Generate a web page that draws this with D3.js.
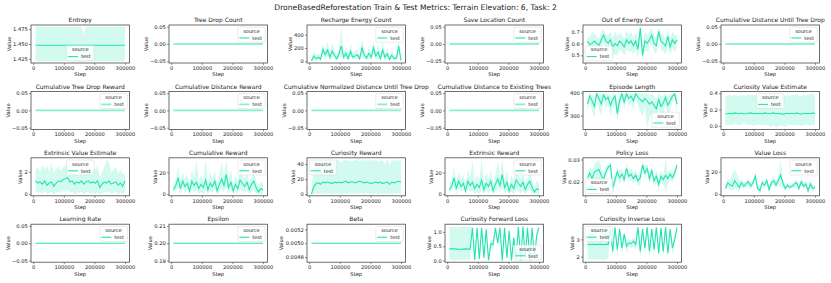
<!DOCTYPE html>
<html>
<head>
<meta charset="utf-8">
<script src="https://cdn.jsdelivr.net/npm/d3@7"></script>
<style>
  body { margin: 0; background: #fff; }
  svg text { font-family: 'DejaVu Sans', sans-serif; fill: #222; }
</style>
</head>
<body>
<div class="box"></div>
<script>
// training steps (x values shared by every panel)
const steps = [7500, 15000, 22500, 30000, 37500, 45000, 52500, 60000, 67500, 75000,
               82500, 90000, 97500, 105000, 112500, 120000, 127500, 135000, 142500, 150000,
               157500, 165000, 172500, 180000, 187500, 195000, 202500, 210000, 217500, 225000,
               232500, 240000, 247500, 255000, 262500, 270000, 277500, 285000, 292500, 300000];
const xTicks = [0, 100000, 200000, 300000];

// Entropy
const entropyValue = 1.448;
const entropyHi = [1.479, 1.479, 1.479, 1.479, 1.479, 1.479, 1.479, 1.479, 1.479, 1.479,
                   1.479, 1.479, 1.479, 1.479, 1.479, 1.479, 1.479, 1.479, 1.479, 1.479,
                   1.479, 1.466, 1.479, 1.479, 1.479, 1.479, 1.479, 1.479, 1.479, 1.479,
                   1.479, 1.479, 1.479, 1.479, 1.479, 1.479, 1.479, 1.479, 1.479, 1.479];
const entropyLo = [1.421, 1.421, 1.421, 1.421, 1.421, 1.421, 1.421, 1.421, 1.421, 1.421,
                   1.421, 1.421, 1.421, 1.421, 1.421, 1.421, 1.421, 1.421, 1.421, 1.421,
                   1.421, 1.421, 1.421, 1.421, 1.421, 1.421, 1.421, 1.421, 1.421, 1.421,
                   1.421, 1.421, 1.421, 1.421, 1.421, 1.421, 1.421, 1.421, 1.421, 1.421];

// Recharge Energy Count
const rechargeMean = [5, 80, 40, 60, 30, 180, 100, 170, 60, 150,
                      90, 40, 110, 230, 60, 120, 40, 150, 60, 80,
                      100, 40, 200, 90, 50, 120, 60, 200, 80, 140,
                      40, 170, 60, 110, 30, 90, 40, 50, 230, 10];
const rechargeHi = [10, 150, 90, 120, 80, 260, 180, 300, 120, 280,
                    170, 90, 200, 520, 120, 220, 90, 260, 120, 160,
                    180, 90, 330, 180, 110, 220, 120, 320, 150, 250,
                    90, 300, 120, 200, 70, 160, 80, 100, 330, 30];
const rechargeLo = [0, 30, 10, 20, 5, 110, 40, 90, 20, 60,
                    30, 10, 40, 80, 20, 50, 10, 70, 20, 30,
                    40, 10, 100, 30, 15, 50, 20, 110, 30, 60,
                    10, 80, 20, 40, 5, 30, 10, 15, 140, 0];

// Out of Energy Count
const outOfEnergyMean = [0.62, 0.59, 0.60, 0.62, 0.60, 0.58, 0.63, 0.67, 0.62, 0.60,
                         0.63, 0.57, 0.60, 0.58, 0.62, 0.60, 0.57, 0.63, 0.60, 0.62,
                         0.58, 0.62, 0.55, 0.73, 0.50, 0.62, 0.60, 0.63, 0.67, 0.60,
                         0.58, 0.70, 0.62, 0.60, 0.58, 0.66, 0.57, 0.63, 0.60, 0.63];
const outOfEnergyHi = [0.66, 0.65, 0.70, 0.68, 0.66, 0.64, 0.70, 0.72, 0.68, 0.67,
                       0.70, 0.64, 0.70, 0.66, 0.69, 0.67, 0.64, 0.71, 0.67, 0.70,
                       0.65, 0.69, 0.63, 0.74, 0.58, 0.70, 0.67, 0.70, 0.73, 0.67,
                       0.65, 0.74, 0.69, 0.67, 0.64, 0.72, 0.64, 0.70, 0.66, 0.68];
const outOfEnergyLo = [0.58, 0.53, 0.52, 0.56, 0.54, 0.52, 0.56, 0.61, 0.55, 0.53,
                       0.56, 0.50, 0.51, 0.50, 0.55, 0.53, 0.50, 0.55, 0.53, 0.54,
                       0.51, 0.55, 0.47, 0.64, 0.45, 0.54, 0.53, 0.56, 0.60, 0.53,
                       0.51, 0.64, 0.55, 0.53, 0.51, 0.58, 0.50, 0.56, 0.53, 0.57];

// Episode Length
const episodeMean = [350, 385, 365, 340, 395, 375, 350, 390, 370, 380,
                     345, 370, 385, 310, 365, 395, 360, 395, 375, 385,
                     365, 395, 380, 370, 360, 375, 365, 350, 360, 345,
                     330, 370, 340, 355, 380, 345, 365, 385, 395, 350];
const episodeHi = [380, 398, 395, 380, 398, 398, 390, 398, 395, 398,
                   385, 395, 398, 360, 395, 398, 395, 398, 398, 398,
                   395, 398, 398, 398, 395, 398, 398, 390, 395, 385,
                   375, 398, 385, 390, 398, 385, 395, 398, 398, 390];
const episodeLo = [315, 360, 320, 290, 375, 330, 300, 370, 330, 350,
                   300, 330, 360, 270, 320, 380, 320, 380, 340, 360,
                   320, 375, 340, 320, 300, 340, 248, 290, 310, 290,
                   275, 330, 290, 300, 350, 300, 320, 360, 380, 310];

// Curiosity Value Estimate
const curValueMean = [0.15, 0.15, 0.155, 0.15, 0.16, 0.155, 0.15, 0.155, 0.15, 0.15,
                      0.155, 0.16, 0.15, 0.155, 0.15, 0.155, 0.15, 0.16, 0.155, 0.15,
                      0.155, 0.16, 0.15, 0.155, 0.15, 0.145, 0.15, 0.155, 0.15, 0.155,
                      0.15, 0.16, 0.15, 0.145, 0.155, 0.15, 0.155, 0.15, 0.16, 0.15];
const curValueHi = [0.36, 0.37, 0.38, 0.37, 0.38, 0.37, 0.36, 0.38, 0.37, 0.37,
                    0.39, 0.38, 0.37, 0.38, 0.37, 0.38, 0.37, 0.39, 0.38, 0.37,
                    0.38, 0.39, 0.38, 0.37, 0.38, 0.37, 0.36, 0.38, 0.37, 0.38,
                    0.37, 0.39, 0.37, 0.36, 0.38, 0.37, 0.38, 0.39, 0.40, 0.38];
const curValueLo = [0.02, 0.01, 0.02, 0.01, 0.03, 0.02, 0.01, 0.02, 0.03, 0.02,
                    0.01, 0.02, 0.00, 0.01, 0.02, 0.01, 0.00, 0.02, 0.01, 0.00,
                    -0.01, 0.01, -0.02, 0.00, 0.01, 0.00, -0.01, 0.01, 0.02, 0.01,
                    0.00, 0.02, 0.01, 0.00, 0.01, 0.02, 0.01, 0.00, 0.01, 0.02];

// Extrinsic Value Estimate
const extValueMean = [1.2, 1.0, 1.1, 0.9, 1.2, 0.8, 1.0, 1.1, 0.7, 1.0,
                      1.2, 1.1, 1.3, 1.4, 1.5, 1.1, 1.2, 0.9, 1.1, 1.0,
                      1.2, 0.9, 1.1, 1.2, 1.0, 1.1, 1.0, 1.2, 0.6, 0.9,
                      1.1, 1.0, 1.2, 0.9, 1.0, 1.1, 0.8, 1.0, 0.7, 1.2];
const extValueHi = [2.2, 2.5, 2.0, 2.7, 2.2, 2.6, 2.0, 2.8, 1.9, 2.3,
                    2.5, 2.1, 2.4, 2.6, 2.8, 2.2, 2.4, 2.0, 2.3, 2.1,
                    2.4, 2.0, 2.3, 2.5, 2.1, 2.3, 2.2, 2.6, 1.5, 2.0,
                    2.4, 3.13, 2.9, 2.0, 2.2, 2.5, 1.8, 2.2, 1.8, 1.9];
const extValueLo = [0.3, 0.1, 0.2, 0.0, 0.3, 0.0, 0.1, 0.2, 0.0, 0.1,
                    0.2, 0.1, 0.3, 0.2, 0.4, 0.1, 0.2, 0.0, 0.1, 0.1,
                    0.2, 0.0, 0.1, 0.2, 0.0, 0.1, 0.0, 0.1, 0.0, 0.0,
                    0.2, 0.1, 0.2, 0.0, 0.1, 0.2, 0.0, 0.1, 0.0, 0.2];

// Cumulative Reward (Extrinsic Reward shows the same curve)
const cumRewardMean = [4, 8, 15, 5, 12, 7, 10, 3, 12, 8,
                       11, 5, 9, 6, 13, 4, 10, 7, 12, 3,
                       9, 14, 8, 18, 6, 11, 3, 9, 5, 13,
                       10, 7, 11, 4, 9, 12, 6, 2, 5, 4];
const cumRewardHi = [8, 14, 25, 12, 20, 14, 18, 10, 22, 15,
                     32, 12, 18, 12, 32, 10, 20, 14, 22, 10,
                     18, 30, 16, 32, 14, 22, 8, 18, 12, 24,
                     18, 14, 20, 10, 16, 22, 12, 6, 12, 10];
const cumRewardLo = [1, 3, 6, 0, 5, 2, 4, 0, 4, 2,
                     3, 0, 2, 0, 4, 0, 3, 1, 4, 0,
                     2, 5, 2, 6, 0, 3, 0, 2, 0, 4,
                     3, 1, 3, 0, 2, 4, 0, 0, 0, 0];
const extRewardMean = cumRewardMean;
const extRewardHi = cumRewardHi;
const extRewardLo = cumRewardLo;

// Curiosity Reward
const curRewardMean = [0, 10, 14, 15, 13, 16, 15, 16, 15, 14,
                       16, 15, 16, 15, 16, 17, 15, 16, 16, 15,
                       16, 17, 16, 15, 16, 15, 14, 15, 16, 15,
                       16, 14, 15, 16, 13, 16, 15, 16, 17, 16];
const curRewardHi = [0, 40, 45, 44, 46, 43, 45, 44, 46, 45,
                     44, 46, 45, 42, 45, 46, 44, 45, 43, 46,
                     45, 44, 46, 45, 44, 46, 45, 44, 46, 43,
                     45, 44, 40, 46, 38, 45, 46, 44, 45, 44];
const curRewardLo = [0, 0, 1, 0, 1, 0, 1, 0, 1, 0,
                     1, 0, 1, 0, 1, 0, 1, 0, 1, 0,
                     1, 0, 1, 0, 1, 0, 1, 0, 1, 0,
                     1, 0, 1, 0, 1, 0, 1, 0, 1, 0];

// Policy Loss
const policyMean = [0.022, 0.024, 0.0215, 0.0245, 0.025, 0.0255, 0.023, 0.021, 0.0245, 0.0265,
                    0.0275, 0.0175, 0.021, 0.0245, 0.022, 0.0235, 0.021, 0.026, 0.0225, 0.0235,
                    0.0215, 0.023, 0.0205, 0.022, 0.0275, 0.024, 0.026, 0.0215, 0.025, 0.0205,
                    0.0225, 0.019, 0.0225, 0.021, 0.023, 0.0215, 0.0235, 0.022, 0.024, 0.0275];
const policyHi = [0.024, 0.027, 0.025, 0.028, 0.029, 0.030, 0.027, 0.024, 0.027, 0.028,
                  0.029, 0.021, 0.024, 0.027, 0.025, 0.026, 0.023, 0.028, 0.025, 0.026,
                  0.024, 0.025, 0.023, 0.025, 0.029, 0.027, 0.028, 0.024, 0.027, 0.023,
                  0.025, 0.022, 0.025, 0.023, 0.030, 0.024, 0.026, 0.024, 0.026, 0.029];
const policyLo = [0.020, 0.021, 0.018, 0.021, 0.021, 0.021, 0.019, 0.018, 0.022, 0.025,
                  0.026, 0.0146, 0.018, 0.022, 0.019, 0.021, 0.019, 0.024, 0.020, 0.021,
                  0.019, 0.021, 0.018, 0.019, 0.026, 0.021, 0.024, 0.019, 0.023, 0.018,
                  0.020, 0.016, 0.020, 0.019, 0.016, 0.019, 0.021, 0.020, 0.022, 0.026];

// Value Loss
const valueLossMean = [5, 10, 8, 7, 12, 9, 6, 10, 7, 9,
                       11, 7, 10, 16, 5, 3, 10, 8, 12, 4,
                       10, 12, 8, 12, 17, 10, 5, 8, 6, 7,
                       9, 10, 5, 11, 7, 9, 3, 9, 5, 6];
const valueLossHi = [7, 14, 12, 18, 22, 18, 12, 14, 10, 12,
                     14, 10, 13, 20, 8, 6, 13, 11, 15, 7,
                     13, 16, 11, 16, 30.8, 14, 8, 10, 8, 9,
                     12, 13, 8, 14, 10, 12, 6, 12, 8, 8];
const valueLossLo = [3, 6, 4, 3, 5, 4, 3, 6, 4, 6,
                     8, 4, 7, 12, 2, 0, 7, 5, 9, 1,
                     7, 8, 5, 8, 6, 6, 2, 6, 4, 5,
                     6, 7, 2, 8, 4, 6, 0, 6, 2, 4];

// Curiosity Forward Loss
const fwdLossMean = [0.42, 0.41, 0.41, 0.40, 0.40, 0.39, 0.40, 0.41, 0.40, 0.40,
                     1.15, 0.02, 1.15, 0.05, 1.15, 0.10, 1.10, 0.00, 0.60, 0.55,
                     1.15, 0.62, 1.15, 0.00, 1.15, 0.10, 1.05, 0.00, 0.80, 0.05,
                     1.18, 0.00, 1.20, 0.10, 1.15, 0.00, 1.15, 0.05, 0.90, 1.15];
const fwdLossHi = [1.18, 1.17, 1.18, 1.16, 1.17, 1.18, 1.20, 1.19, 1.18, 1.18,
                   1.20, 0.10, 1.20, 0.15, 1.20, 0.20, 1.18, 0.05, 0.75, 0.70,
                   1.20, 0.75, 1.20, 0.05, 1.20, 0.20, 1.15, 0.05, 0.95, 0.15,
                   1.22, 0.05, 1.22, 0.20, 1.20, 0.05, 1.20, 0.15, 1.05, 1.20];
const fwdLossLo = [0.02, 0.03, 0.02, 0.01, 0.02, 0.03, 0.02, 0.01, 0.02, 0.02,
                   1.05, 0.00, 1.05, 0.00, 1.05, 0.00, 1.00, 0.00, 0.45, 0.40,
                   1.05, 0.45, 1.05, 0.00, 1.05, 0.00, 0.95, 0.00, 0.65, 0.00,
                   1.10, 0.00, 1.15, 0.00, 1.05, 0.00, 1.05, 0.00, 0.75, 1.05];

// Curiosity Inverse Loss
const invLossMean = [2.72, 2.70, 2.72, 2.71, 2.70, 2.72, 2.71, 2.70, 2.72, 2.71,
                     3.6, 2.3, 3.7, 2.4, 3.6, 2.5, 3.3, 2.6, 2.8, 2.75,
                     2.9, 2.7, 3.7, 2.3, 3.6, 2.5, 3.7, 2.3, 3.6, 2.4,
                     3.7, 2.2, 3.65, 2.3, 3.7, 2.2, 3.6, 2.5, 3.0, 3.7];
const invLossHi = [3.72, 3.70, 3.74, 3.68, 3.72, 3.66, 3.72, 3.70, 3.68, 3.72,
                   3.72, 2.6, 3.78, 2.7, 3.72, 2.8, 3.5, 2.9, 3.0, 2.95,
                   3.1, 2.95, 3.78, 2.6, 3.72, 2.8, 3.78, 2.6, 3.72, 2.7,
                   3.78, 2.5, 3.75, 2.6, 3.78, 2.5, 3.72, 2.8, 3.3, 3.78];
const invLossLo = [1.85, 1.88, 1.82, 1.85, 1.80, 1.86, 1.84, 1.78, 1.86, 1.88,
                   3.3, 1.95, 3.5, 2.0, 3.3, 2.1, 3.0, 2.2, 2.55, 2.5,
                   2.6, 2.4, 3.5, 1.9, 3.3, 2.1, 3.5, 1.9, 3.3, 2.0,
                   3.5, 1.85, 3.4, 1.9, 3.5, 1.85, 3.3, 2.1, 2.7, 3.5];

// flat series
const treeDropCount = 0;
const saveLocationCount = 0;
const cumDistUntilDrop = 0;
const cumTreeDropReward = 0;
const cumDistReward = 0;
const cumNormDist = 0;
const cumDistExisting = 0;
const learningRate = 0;
const epsilon = 0.2;
const beta = 0.005;

const zeroTicks = [-0.05, 0, 0.05];

const panels = [
  {title: 'Entropy', flat: entropyValue, lo: entropyLo, hi: entropyHi, ticks: [1.425, 1.45, 1.475], fmt: '.3f', legend: 'lc'},
  {title: 'Tree Drop Count', flat: treeDropCount, ticks: zeroTicks, fmt: '.2f', legend: 'ur'},
  {title: 'Recharge Energy Count', mean: rechargeMean, lo: rechargeLo, hi: rechargeHi, ticks: [0, 200, 400], fmt: 'd', legend: 'ur'},
  {title: 'Save Location Count', flat: saveLocationCount, ticks: zeroTicks, fmt: '.2f', legend: 'ur'},
  {title: 'Out of Energy Count', mean: outOfEnergyMean, lo: outOfEnergyLo, hi: outOfEnergyHi, ticks: [0.5, 0.6, 0.7], fmt: '.1f', legend: 'll'},
  {title: 'Cumulative Distance Until Tree Drop', flat: cumDistUntilDrop, ticks: zeroTicks, fmt: '.2f', legend: 'ur'},
  {title: 'Cumulative Tree Drop Reward', flat: cumTreeDropReward, ticks: zeroTicks, fmt: '.2f', legend: 'ur', pale: true},
  {title: 'Cumulative Distance Reward', flat: cumDistReward, ticks: zeroTicks, fmt: '.2f', legend: 'ur', pale: true},
  {title: 'Cumulative Normalized Distance Until Tree Drop', flat: cumNormDist, ticks: zeroTicks, fmt: '.2f', legend: 'ur', pale: true},
  {title: 'Cumulative Distance to Existing Trees', flat: cumDistExisting, ticks: zeroTicks, fmt: '.2f', legend: 'ur', pale: true},
  {title: 'Episode Length', mean: episodeMean, lo: episodeLo, hi: episodeHi, ticks: [300, 400], fmt: 'd', legend: 'lr'},
  {title: 'Curiosity Value Estimate', mean: curValueMean, lo: curValueLo, hi: curValueHi, ticks: [0, 0.2, 0.4], fmt: '.1f', legend: 'uc'},
  {title: 'Extrinsic Value Estimate', mean: extValueMean, lo: extValueLo, hi: extValueHi, ticks: [0, 2], fmt: 'd', legend: 'uc'},
  {title: 'Cumulative Reward', mean: cumRewardMean, lo: cumRewardLo, hi: cumRewardHi, ticks: [0, 20], fmt: 'd', legend: 'ur'},
  {title: 'Curiosity Reward', mean: curRewardMean, lo: curRewardLo, hi: curRewardHi, ticks: [0, 20, 40], fmt: 'd', legend: 'ul'},
  {title: 'Extrinsic Reward', mean: extRewardMean, lo: extRewardLo, hi: extRewardHi, ticks: [0, 20], fmt: 'd', legend: 'ur'},
  {title: 'Policy Loss', mean: policyMean, lo: policyLo, hi: policyHi, ticks: [0.02, 0.03], fmt: '.2f', legend: 'll'},
  {title: 'Value Loss', mean: valueLossMean, lo: valueLossLo, hi: valueLossHi, ticks: [0, 20], fmt: 'd', legend: 'ur'},
  {title: 'Learning Rate', flat: learningRate, ticks: zeroTicks, fmt: '.2f', legend: 'ur'},
  {title: 'Epsilon', flat: epsilon, ticks: [0.19, 0.2, 0.21], fmt: '.2f', legend: 'ur'},
  {title: 'Beta', flat: beta, ticks: [0.0048, 0.005, 0.0052], fmt: '.4f', legend: 'ur'},
  {title: 'Curiosity Forward Loss', mean: fwdLossMean, lo: fwdLossLo, hi: fwdLossHi, ticks: [0, 0.5, 1], fmt: '.1f', legend: 'lr'},
  {title: 'Curiosity Inverse Loss', mean: invLossMean, lo: invLossLo, hi: invLossHi, ticks: [2, 3], fmt: 'd', legend: 'ul'}
];

const color = '#22e4b0';
const frame = '#4a4a4a';
const layout = {left: 31, top: 25, width: 98.5, height: 38, dx: 138, dy: 66.4};

const svg = d3.select('.box')
              .append('svg')
              .attr('width', 831)
              .attr('height', 283)
              .style('background', '#fff');

svg.append('text')
   .attr('x', 415.5)
   .attr('y', 10)
   .attr('text-anchor', 'middle')
   .style('font-size', '7.6px')
   .text('DroneBasedReforestation Train & Test Metrics: Terrain Elevation: 6, Task: 2');

const x = d3.scaleLinear()
            .domain([steps[0] - 0.05 * (steps[steps.length - 1] - steps[0]),
                     steps[steps.length - 1] + 0.05 * (steps[steps.length - 1] - steps[0])])
            .range([0, layout.width]);

function yDomain(p) {
  const vals = [];
  if (p.flat !== undefined) vals.push(p.flat);
  if (p.mean) vals.push(...p.mean);
  if (p.lo) vals.push(...p.lo, ...p.hi);
  const lo = d3.min(vals), hi = d3.max(vals);
  if (hi === lo) {
    const d = lo === 0 ? 0.055 : Math.abs(lo) * 0.055;
    return [lo - d, hi + d];
  }
  const pad = (hi - lo) * 0.05;
  return [lo - pad, hi + pad];
}

function drawLegend(g, loc, pale) {
  const w = 27.5, h = 15, pad = 2.2;
  const W = layout.width, H = layout.height;
  let lx = W - w - pad, ly = pad;
  if (loc === 'ul' || loc === 'll') lx = pad;
  if (loc === 'uc' || loc === 'lc') lx = (W - w) / 2;
  if (loc[0] === 'l') ly = H - h - pad;

  const lg = g.append('g').attr('transform', `translate(${lx}, ${ly})`);
  lg.append('rect')
    .attr('width', w).attr('height', h)
    .attr('rx', 1.2)
    .attr('fill', '#fff').attr('fill-opacity', 0.8)
    .attr('stroke', '#d6d6d6').attr('stroke-width', 0.5);
  lg.append('text')
    .attr('x', w / 2).attr('y', 5.6)
    .attr('text-anchor', 'middle')
    .style('font-size', '5px')
    .text('source');
  lg.append('line')
    .attr('x1', 1.5).attr('x2', 11.5)
    .attr('y1', 10.8).attr('y2', 10.8)
    .attr('stroke', color)
    .attr('stroke-opacity', pale ? 0.55 : 1)
    .attr('stroke-width', pale ? 1.8 : 1.1);
  lg.append('text')
    .attr('x', 14.5).attr('y', 12.6)
    .style('font-size', '5px')
    .text('test');
}

panels.forEach((p, i) => {
  const col = i % 6, row = Math.floor(i / 6);
  const g = svg.append('g')
               .attr('transform', `translate(${layout.left + col * layout.dx}, ${layout.top + row * layout.dy})`);

  const y = d3.scaleLinear().domain(yDomain(p)).range([layout.height, 0]);

  if (p.lo) {
    const area = d3.area()
                   .x(d => x(d))
                   .y0((d, k) => y(p.lo[k]))
                   .y1((d, k) => y(p.hi[k]));
    g.append('path')
     .datum(steps)
     .attr('d', area)
     .attr('fill', color)
     .attr('fill-opacity', 0.2);
  }

  const line = d3.line()
                 .x(d => x(d))
                 .y((d, k) => y(p.mean ? p.mean[k] : p.flat));
  g.append('path')
   .datum(steps)
   .attr('d', line)
   .attr('fill', 'none')
   .attr('stroke', color)
   .attr('stroke-opacity', p.pale ? 0.55 : 1)
   .attr('stroke-width', p.pale ? 1.8 : 1.1);

  g.append('rect')
   .attr('width', layout.width)
   .attr('height', layout.height)
   .attr('fill', 'none')
   .attr('stroke', frame)
   .attr('stroke-width', 0.8);

  const gx = g.append('g')
              .attr('transform', `translate(0, ${layout.height})`)
              .call(d3.axisBottom(x).tickValues(xTicks).tickFormat(d3.format('d')).tickSize(2).tickPadding(1.2));
  const gy = g.append('g')
              .call(d3.axisLeft(y).tickValues(p.ticks).tickFormat(d3.format(p.fmt)).tickSize(2).tickPadding(1.2));

  [gx, gy].forEach(a => {
    a.select('.domain').remove();
    a.selectAll('line').attr('stroke', frame).attr('stroke-width', 0.6);
    a.selectAll('text').style('font-size', '5.2px').attr('fill', '#222');
    a.attr('font-family', null);
  });

  g.append('text')
   .attr('x', layout.width / 2)
   .attr('y', layout.height + 13.4)
   .attr('text-anchor', 'middle')
   .style('font-size', '5.2px')
   .text('Step');

  const bx = gy.node().getBBox().x;
  g.append('text')
   .attr('transform', `translate(${bx - 2.2}, ${layout.height / 2}) rotate(-90)`)
   .attr('text-anchor', 'middle')
   .style('font-size', '5.2px')
   .text('Value');

  g.append('text')
   .attr('x', layout.width / 2)
   .attr('y', -2.8)
   .attr('text-anchor', 'middle')
   .style('font-size', '6px')
   .text(p.title);

  drawLegend(g, p.legend, p.pale);
});
</script>
</body>
</html>
